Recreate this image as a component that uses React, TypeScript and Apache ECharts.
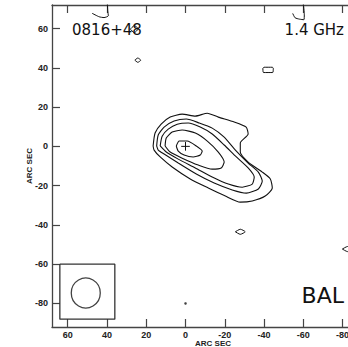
import React, { useEffect, useRef } from "react";
import * as echarts from "echarts";

// Axis ranges (arcsec) and tick values
const xRange = [-96, 68];
const yRange = [-92, 72];
const xTicks = [60, 40, 20, 0, -20, -40, -60, -80];
const yTicks = [60, 40, 20, 0, -20, -40, -60, -80];

// Contour levels (outer to inner), in arcsec [RA offset, Dec offset]
const contour5: number[][] = [
  [16.5, 0.2], [15.5, 6.8], [12.4, 11.3], [7.8, 14.9], [1.7, 16.4], [-5.0, 15.4],
  [-11.1, 16.9], [-16.7, 14.9], [-24.8, 12.4], [-30.9, 9.8], [-31.9, 6.3], [-27.9, 1.7],
  [-27.9, -2.9], [-31.9, -8.0], [-39.1, -13.1], [-43.2, -16.6], [-44.2, -21.2],
  [-40.6, -25.3], [-34.0, -27.8], [-27.9, -28.4], [-20.3, -25.3], [-11.6, -21.2],
  [-2.4, -16.6], [6.8, -10.5], [12.9, -5.4], [16.0, -1.9], [16.5, 0.2],
];
const contour4: number[][] = [
  [14.7, 0.2], [13.9, 5.8], [10.9, 9.8], [5.8, 12.9], [-0.4, 13.9], [-7.0, 11.9],
  [-13.6, 9.3], [-19.7, 4.7], [-25.4, -1.9], [-31.9, -8.5], [-37.1, -13.1],
  [-39.1, -17.7], [-37.1, -21.7], [-31.0, -23.8], [-23.8, -22.2], [-14.6, -18.7],
  [-5.5, -14.1], [3.7, -8.5], [10.9, -3.9], [13.9, -1.9], [14.7, 0.2],
];
const contour3: number[][] = [
  [12.9, 0.2], [11.9, 5.2], [8.8, 8.8], [4.2, 11.3], [-1.4, 11.9], [-7.5, 9.8],
  [-13.6, 6.3], [-19.7, 0.7], [-25.9, -5.4], [-31.9, -11.0], [-35.0, -15.6],
  [-34.0, -19.2], [-28.9, -20.8], [-21.8, -19.2], [-13.6, -15.6], [-5.0, -11.0],
  [3.7, -6.5], [9.8, -2.9], [12.9, 0.2],
];
const contour2: number[][] = [
  [10.4, 0.2], [9.8, 4.2], [6.8, 7.3], [1.7, 8.3], [-5.0, 6.8], [-11.1, 2.7],
  [-16.7, -2.9], [-19.7, -8.0], [-18.2, -11.0], [-13.6, -11.6], [-6.5, -9.5],
  [1.7, -6.0], [7.8, -2.9], [10.4, 0.2],
];
const contour1: number[][] = [
  [4.7, 0.2], [3.2, 2.7], [-0.9, 2.7], [-5.5, 0.2], [-8.5, -2.4], [-7.5, -4.4],
  [-3.9, -5.4], [0.7, -4.4], [3.7, -2.4], [4.7, 0.2],
];

// Small isolated contours
const blobA: number[][] = [[28.1, 59.7], [26.1, 61.5], [24.1, 59.9], [26.1, 57.9], [28.1, 59.7]];
const blobB: number[][] = [[25.8, 43.9], [24.3, 45.0], [22.8, 43.9], [24.3, 42.8], [25.8, 43.9]];
const blobC: number[][] = [
  [-39.4, 39.8], [-40.0, 40.3], [-44.2, 40.3], [-44.7, 39.8], [-44.4, 37.6], [-39.7, 37.6], [-39.4, 39.8],
];
const blobD: number[][] = [[-25.4, -43.5], [-27.9, -42.2], [-30.4, -43.5], [-27.9, -44.8], [-25.4, -43.5]];
const blobE: number[][] = [[-79.9, -52.3], [-82.5, -51.0], [-85.0, -52.3], [-82.5, -53.6], [-79.9, -52.3]];
const hookLeft: number[][] = [[47.6, 67.8], [44.0, 66.0], [41.5, 65.6], [39.3, 66.5], [39.6, 69.0], [39.8, 72.5]];
const hookRight: number[][] = [[-54.6, 67.7], [-55.8, 65.5], [-58.0, 64.8], [-60.3, 64.5], [-60.5, 67.0], [-60.0, 72.5]];
const dots: number[][] = [[0, -80]];

// Peak cross
const crossH: number[][] = [[2.2, 0], [-2.2, 0]];
const crossV: number[][] = [[0, 2.2], [0, -2.2]];

// Beam box and beam
const beamBox: number[][] = [[64, -60], [36, -60], [36, -88], [64, -88], [64, -60]];
const beamCenter: number[][] = [[50.8, -74.7]];

const LINE = "#111";

export default function App() {
  const ref = useRef<HTMLDivElement>(null);
  useEffect(() => {
    if (!ref.current) return;
    const chart = echarts.init(ref.current, undefined, { renderer: "svg" });
    const lineSeries = (data: number[][], width = 1.1) => ({
      type: "line",
      data,
      symbol: "none",
      smooth: 0.2,
      lineStyle: { color: LINE, width },
      silent: true,
      clip: true,
    });
    const axisCommon = {
      type: "value",
      splitLine: { show: false },
      axisLine: { show: true, onZero: false, lineStyle: { color: "#444", width: 1.3 } },
      axisTick: { show: true, inside: true, length: 8, lineStyle: { color: "#444", width: 1.2 } },
    };
    const labelStyle = {
      fontFamily: "Liberation Sans",
      fontWeight: "bold",
      fontSize: 9,
      color: "#222",
    };
    const nameStyle = { fontFamily: "Liberation Sans", fontWeight: "bold", fontSize: 8, color: "#222" };
    chart.setOption({
      animation: false,
      backgroundColor: "#fff",
      grid: { left: 52, top: 5, width: 322, height: 322, containLabel: false, outerBoundsMode: "none" },
      xAxis: [
        {
          ...axisCommon,
          position: "bottom",
          min: xRange[0],
          max: xRange[1],
          inverse: true,
          axisTick: { ...axisCommon.axisTick, customValues: xTicks },
          axisLabel: { ...labelStyle, margin: 3, customValues: xTicks },
          name: "ARC SEC",
          nameLocation: "middle",
          nameGap: 12,
          nameMoveOverlap: false,
          nameTextStyle: nameStyle,
        },
        {
          ...axisCommon,
          position: "top",
          min: xRange[0],
          max: xRange[1],
          inverse: true,
          axisTick: { ...axisCommon.axisTick, customValues: xTicks },
          axisLabel: { show: false },
        },
      ],
      yAxis: [
        {
          ...axisCommon,
          position: "left",
          min: yRange[0],
          max: yRange[1],
          axisTick: { ...axisCommon.axisTick, customValues: yTicks },
          axisLabel: { ...labelStyle, margin: 4, customValues: yTicks },
          name: "ARC SEC",
          nameLocation: "middle",
          nameRotate: 90,
          nameGap: 19,
          nameMoveOverlap: false,
          nameTextStyle: nameStyle,
        },
        {
          ...axisCommon,
          position: "right",
          min: yRange[0],
          max: yRange[1],
          axisTick: { ...axisCommon.axisTick, customValues: yTicks },
          axisLabel: { show: false },
        },
      ],
      series: [
        lineSeries(contour5),
        lineSeries(contour4),
        lineSeries(contour3),
        lineSeries(contour2),
        lineSeries(contour1),
        lineSeries(blobA, 1),
        lineSeries(blobB, 1),
        lineSeries(blobC, 1),
        lineSeries(blobD, 1),
        lineSeries(blobE, 1),
        lineSeries(hookLeft, 1),
        lineSeries(hookRight, 1),
        { ...lineSeries(crossH, 1), smooth: false },
        { ...lineSeries(crossV, 1), smooth: false },
        { ...lineSeries(beamBox, 1.3), smooth: false, lineStyle: { color: "#333", width: 1.3 } },
        {
          type: "scatter",
          data: beamCenter,
          symbol: "circle",
          symbolSize: [29, 30],
          itemStyle: { color: "rgba(0,0,0,0)", borderColor: LINE, borderWidth: 1.3 },
          silent: true,
        },
        {
          type: "scatter",
          data: dots,
          symbol: "circle",
          symbolSize: 2.5,
          itemStyle: { color: LINE },
          silent: true,
        },
      ],
      graphic: [
        {
          type: "text",
          x: 72,
          y: 30,
          style: { text: "0816+48", font: "15px 'DejaVu Sans'", fill: "#111", verticalAlign: "middle", align: "left" },
        },
        {
          type: "text",
          x: 344,
          y: 30,
          style: { text: "1.4 GHz", font: "15px 'DejaVu Sans'", fill: "#111", verticalAlign: "middle", align: "right" },
        },
        {
          type: "text",
          x: 344,
          y: 295,
          style: { text: "BAL", font: "22px 'DejaVu Sans'", fill: "#111", verticalAlign: "middle", align: "right" },
        },
      ],
    });
    return () => chart.dispose();
  }, []);
  return (
    <div
      ref={ref}
      style={{ position: "fixed", left: 0, top: 0, width: 348, height: 347, background: "#fff" }}
    />
  );
}
